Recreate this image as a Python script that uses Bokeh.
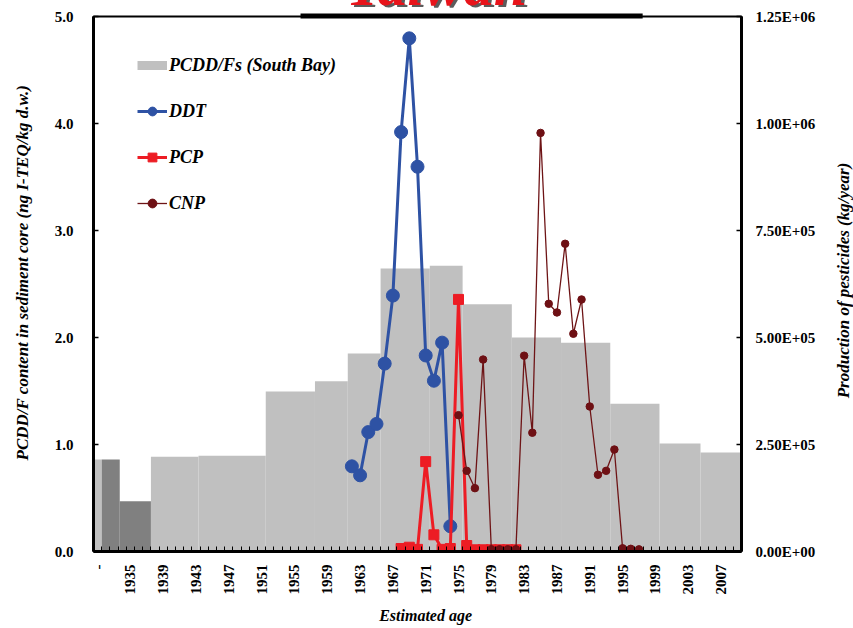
import math
from bokeh.plotting import figure
from bokeh.models import Range1d, LinearAxis, FixedTicker, Legend, LegendItem, PrintfTickFormatter
from bokeh.core.properties import value
from bokeh.embed import file_html
from bokeh.resources import INLINE

FONT = "Liberation Serif"

# ---------------- data ----------------
# PCDD/Fs (South Bay) sediment core layers: [left year, right year] and content (ng I-TEQ/kg d.w.)
pcdd_left = [1930.5, 1937.5, 1943.3, 1951.5, 1957.5, 1961.5, 1965.5, 1971.5, 1975.5, 1981.5, 1987.5, 1993.5, 1999.5, 2004.5]
pcdd_right = [1931.5, 1943.3, 1951.5, 1957.5, 1961.5, 1965.5, 1971.5, 1975.5, 1981.5, 1987.5, 1993.5, 1999.5, 2004.5, 2009.5]
pcdd_value = [0.86, 0.885, 0.895, 1.495, 1.59, 1.85, 2.645, 2.67, 2.31, 2.0, 1.95, 1.38, 1.01, 0.925]

# darker layers
dark_left = [1931.5, 1933.7]
dark_right = [1933.7, 1937.5]
dark_value = [0.86, 0.47]

# production of pesticides (kg/year)
ddt_year = [1962, 1963, 1964, 1965, 1966, 1967, 1968, 1969, 1970, 1971, 1972, 1973, 1974]
ddt_value = [199000, 178000, 279000, 298000, 439000, 598000, 980000, 1199000, 899000, 458000, 399000, 488000, 59000]

pcp_year = [1968, 1969, 1970, 1971, 1972, 1973, 1974, 1975, 1976, 1977, 1978, 1979, 1980, 1981, 1982]
pcp_value = [7000, 10000, 5000, 210000, 39000, 5000, 7000, 589000, 14000, 4000, 4000, 4000, 4000, 4000, 4000]

cnp_year = [1975, 1976, 1977, 1978, 1979, 1980, 1981, 1982, 1983, 1984, 1985, 1986, 1987, 1988, 1989, 1990,
            1991, 1992, 1993, 1994, 1995, 1996, 1997]
cnp_value = [318500, 188500, 148000, 448500, 5000, 5000, 5000, 5000, 457500, 277500, 978000, 578750, 558500,
             719000, 508750, 588750, 338750, 179250, 188500, 238250, 7500, 6250, 5000]

x_ticks = [1931, 1935, 1939, 1943, 1947, 1951, 1955, 1959, 1963, 1967, 1971, 1975, 1979, 1983, 1987, 1991,
           1995, 1999, 2003, 2007]
x_labels = {1931: "-"}
left_ticks = [0, 1, 2, 3, 4, 5]
right_ticks = [0, 250000, 500000, 750000, 1000000, 1250000]
right_labels = {0: "0.00E+00", 250000: "2.50E+05", 500000: "5.00E+05", 750000: "7.50E+05",
                1000000: "1.00E+06", 1250000: "1.25E+06"}

# ---------------- figure ----------------
p = figure(width=853, height=628, x_range=Range1d(1930.5, 2009.5), y_range=Range1d(0, 5),
           output_backend="svg", toolbar_location=None, title=None,
           min_border_left=93, min_border_right=112, min_border_top=16, min_border_bottom=77)
p.extra_y_ranges = {"right": Range1d(0, 1250000)}
p.xgrid.visible = False
p.ygrid.visible = False
p.outline_line_color = "black"
p.outline_line_width = 2
p.background_fill_color = "white"
p.border_fill_color = "white"

def style_axis(ax):
    ax.axis_line_width = 3
    ax.axis_line_color = "black"
    ax.major_label_text_font = FONT
    ax.major_label_text_font_style = "bold"
    ax.major_label_text_font_size = "15px"
    ax.major_label_text_color = "black"
    ax.major_tick_line_color = "black"
    ax.major_tick_line_width = 1.5
    ax.minor_tick_line_color = None

xa = p.xaxis[0]
style_axis(xa)
xa.ticker = FixedTicker(ticks=x_ticks, minor_ticks=[1930.5 + i for i in range(80)])
xa.major_label_overrides = x_labels
xa.major_label_orientation = math.pi / 2
xa.major_tick_in = 0
xa.major_tick_out = 0
xa.minor_tick_line_color = "black"
xa.minor_tick_line_width = 1
xa.minor_tick_in = 5
xa.minor_tick_out = 0
xa.major_label_standoff = 13

ya = p.yaxis[0]
style_axis(ya)
ya.ticker = FixedTicker(ticks=left_ticks)
ya.formatter = PrintfTickFormatter(format="%.1f")
ya.major_tick_in = 5
ya.major_tick_out = 0
ya.major_label_standoff = 20

ra = LinearAxis(y_range_name="right", ticker=FixedTicker(ticks=right_ticks), major_label_overrides=right_labels)
style_axis(ra)
ra.major_tick_in = 5
ra.major_tick_out = 0
ra.major_label_standoff = 14
p.add_layout(ra, "right")

# bars
p.quad(left=pcdd_left, right=pcdd_right, bottom=0, top=pcdd_value, fill_color="#C0C0C0", line_color=None)
p.quad(left=dark_left, right=dark_right, bottom=0, top=dark_value, fill_color="#808080", line_color=None)

# pesticide series
ddt_l = p.line(ddt_year, ddt_value, y_range_name="right", line_color="#2E52A4", line_width=3)
ddt_s = p.scatter(ddt_year, ddt_value, y_range_name="right", marker="circle", size=13,
                  fill_color="#2E52A4", line_color="#2E52A4")
pcp_l = p.line(pcp_year, pcp_value, y_range_name="right", line_color="#ED1C24", line_width=3)
pcp_s = p.scatter(pcp_year, pcp_value, y_range_name="right", marker="square", size=10,
                  fill_color="#ED1C24", line_color="#ED1C24")
cnp_l = p.line(cnp_year, cnp_value, y_range_name="right", line_color="#6E1416", line_width=1.3)
cnp_s = p.scatter(cnp_year, cnp_value, y_range_name="right", marker="circle", size=7.5,
                  fill_color="#6E1014", line_color="#6E1014")

# legend proxy for the bars (one point outside of view)
bar_proxy = p.line(x=[1900.0, 1901.0], y=[-10.0, -10.0], line_color="#C0C0C0", line_width=9)

legend = Legend(items=[
    LegendItem(label="PCDD/Fs (South Bay)", renderers=[bar_proxy]),
    LegendItem(label="DDT", renderers=[ddt_l, ddt_s]),
    LegendItem(label="PCP", renderers=[pcp_l, pcp_s]),
    LegendItem(label="CNP", renderers=[cnp_l, cnp_s]),
], location=(44, 337))
legend.label_text_font = FONT
legend.label_text_font_style = "bold italic"
legend.label_text_font_size = "18px"
legend.label_text_color = "black"
legend.glyph_width = 30
legend.glyph_height = 22
legend.label_height = 22
legend.spacing = 24
legend.padding = 0
legend.margin = 0
legend.label_standoff = 2
legend.border_line_color = None
legend.background_fill_alpha = 0
p.add_layout(legend)

# axis titles (drawn above the frame so they are not clipped)
lab_style = dict(text_font=value(FONT), text_font_style="bold italic", text_color="black",
                 text_align="center", text_baseline="middle", level="overlay")
p.text(x=[1921.84], y=[2.607], text=["PCDD/F content in sediment core (ng I-TEQ/kg d.w.)"],
       angle=math.pi / 2, text_font_size="17px", **lab_style)
p.text(x=[2021.96], y=[2.533], text=["Production of pesticides (kg/year)"],
       angle=math.pi / 2, text_font_size="17px", **lab_style)
p.text(x=[1970.99], y=[-0.598], text=["Estimated age"], text_font_size="16px", **lab_style)

# title (cut off at the top of the picture, as in the original) and the bar beneath it
p.segment(x0=[1955.74], y0=[5.005], x1=[1997.45], y1=[5.005], line_color="black", line_width=5, level="overlay")
p.text(x=[1972.7], y=[5.275], text=["Taiwan"], text_color="#333333", text_alpha=0.8,
       text_font=value(FONT), text_font_style="bold italic", text_font_size="60px",
       text_align="center", text_baseline="alphabetic", level="overlay")
p.text(x=[1972.33], y=[5.293], text=["Taiwan"], text_color="#E8141B",
       text_font=value(FONT), text_font_style="bold italic", text_font_size="60px",
       text_align="center", text_baseline="alphabetic", level="overlay")

open("out.html", "w").write(file_html(p, INLINE))
